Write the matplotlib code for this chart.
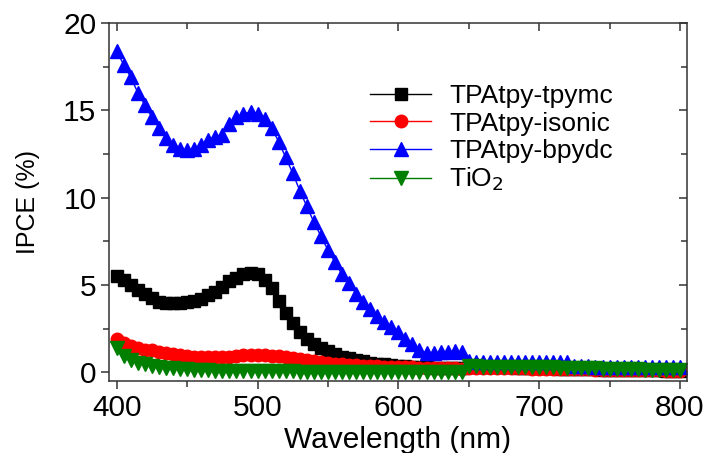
import numpy as np
import matplotlib
matplotlib.use("Agg")
import matplotlib.pyplot as plt
from matplotlib.ticker import MultipleLocator

plt.rcParams['font.family'] = ['Liberation Sans', 'DejaVu Sans']

# Wavelength grid (nm), 5 nm steps
wavelength = np.arange(400, 805, 5)

tpymc = [5.5, 5.3, 5.0, 4.7, 4.5, 4.25, 4.05, 3.95, 3.95, 3.95,
         4.0, 4.1, 4.2, 4.4, 4.6, 4.9, 5.2, 5.4, 5.6, 5.7,
         5.6, 5.3, 4.8, 4.1, 3.4, 2.8, 2.3, 1.9, 1.6, 1.4,
         1.2, 1.05, 0.9, 0.8, 0.7, 0.62, 0.55, 0.5, 0.45, 0.4,
         0.38, 0.35, 0.32, 0.3, 0.28, 0.26, 0.25, 0.24, 0.23, 0.22,
         0.3, 0.3, 0.3, 0.3, 0.29, 0.28, 0.28, 0.27, 0.26, 0.25,
         0.24, 0.23, 0.22, 0.21, 0.2, 0.19, 0.18, 0.17, 0.16, 0.15,
         0.14, 0.14, 0.13, 0.13, 0.12, 0.12, 0.11, 0.11, 0.1, 0.1, 0.1]

isonic = [1.9, 1.7, 1.5, 1.4, 1.3, 1.25, 1.15, 1.1, 1.05, 1.0,
          0.95, 0.9, 0.88, 0.85, 0.85, 0.87, 0.9, 0.95, 1.0, 1.0,
          1.0, 1.0, 0.95, 0.92, 0.88, 0.8, 0.75, 0.7, 0.65, 0.6,
          0.55, 0.5, 0.45, 0.42, 0.4, 0.38, 0.36, 0.34, 0.32, 0.31,
          0.3, 0.29, 0.28, 0.27, 0.26, 0.25, 0.24, 0.23, 0.22, 0.2,
          0.25, 0.25, 0.25, 0.24, 0.24, 0.23, 0.23, 0.22, 0.22, 0.21,
          0.2, 0.2, 0.19, 0.18, 0.18, 0.17, 0.16, 0.16, 0.15, 0.15,
          0.14, 0.14, 0.13, 0.13, 0.12, 0.12, 0.11, 0.11, 0.1, 0.1, 0.1]

bpydc = [18.4, 17.6, 16.9, 16.0, 15.3, 14.6, 14.0, 13.4, 13.0, 12.8,
         12.7, 12.8, 13.0, 13.3, 13.5, 13.6, 14.2, 14.6, 14.8, 14.9,
         14.8, 14.5, 14.0, 13.2, 12.3, 11.4, 10.4, 9.5, 8.6, 7.8,
         7.0, 6.3, 5.6, 5.1, 4.5, 4.0, 3.6, 3.2, 2.9, 2.6,
         2.3, 1.9, 1.6, 1.3, 1.1, 1.1, 1.15, 1.15, 1.2, 1.15,
         0.65, 0.6, 0.6, 0.6, 0.6, 0.6, 0.6, 0.6, 0.6, 0.6,
         0.6, 0.6, 0.6, 0.6, 0.6, 0.35, 0.35, 0.35, 0.33, 0.33,
         0.32, 0.32, 0.3, 0.3, 0.3, 0.3, 0.3, 0.3, 0.3, 0.3, 0.28]

tio2 = [1.4, 0.95, 0.7, 0.55, 0.45, 0.38, 0.32, 0.27, 0.23, 0.2,
        0.17, 0.15, 0.13, 0.12, 0.1, 0.09, 0.08, 0.08, 0.07, 0.07,
        0.06, 0.06, 0.05, 0.05, 0.05, 0.05, 0.04, 0.04, 0.04, 0.04,
        0.04, 0.04, 0.04, 0.04, 0.04, 0.04, 0.04, 0.04, 0.04, 0.04,
        0.04, 0.04, 0.04, 0.04, 0.04, 0.04, 0.04, 0.04, 0.04, 0.04,
        0.35, 0.34, 0.33, 0.33, 0.32, 0.32, 0.31, 0.31, 0.3, 0.3,
        0.3, 0.29, 0.28, 0.27, 0.26, 0.25, 0.24, 0.23, 0.22, 0.21,
        0.2, 0.19, 0.18, 0.17, 0.16, 0.15, 0.14, 0.13, 0.13, 0.12, 0.12]

series = [
    ("TPAtpy-tpymc", tpymc, "black", "s", 8.5),
    ("TPAtpy-isonic", isonic, "#ff0000", "o", 9.0),
    ("TPAtpy-bpydc", bpydc, "#0000ff", "^", 10.0),
    ("TiO$_2$", tio2, "#007f00", "v", 10.0),
]

fig = plt.figure(figsize=(7.10, 4.53), dpi=100)
ax = fig.add_axes([109 / 710, 1 - 381 / 453, (687 - 109) / 710, (381 - 23) / 453])

for label, vals, color, marker, msize in series:
    ax.plot(wavelength, vals, color=color, marker=marker, markersize=msize,
            markeredgecolor=color, linewidth=1.0, label=label)

ax.set_xlim(394.5, 805)
ax.set_ylim(-0.5, 20)
ax.xaxis.set_major_locator(MultipleLocator(100))
ax.xaxis.set_minor_locator(MultipleLocator(50))
ax.yaxis.set_major_locator(MultipleLocator(5))
ax.yaxis.set_minor_locator(MultipleLocator(2.5))

spine_color = "#333333"
for s in ax.spines.values():
    s.set_color(spine_color)
    s.set_linewidth(1.1)

ax.tick_params(which="both", direction="out", color=spine_color, width=1.1,
               labelsize=21.5, pad=3)
ax.tick_params(which="major", length=6)
ax.tick_params(which="minor", length=4)
ax.tick_params(which="both", top=True, right=True)
# ticks on the top and right point inward
for t in ax.xaxis.get_major_ticks() + ax.xaxis.get_minor_ticks():
    t.tick2line.set_marker(3)  # TICKDOWN
for t in ax.yaxis.get_major_ticks() + ax.yaxis.get_minor_ticks():
    t.tick2line.set_marker(0)  # TICKLEFT

ax.set_xlabel("Wavelength (nm)", fontsize=21.5)
ax.set_ylabel("IPCE (%)", fontsize=18)
ax.xaxis.set_label_coords(0.5, -0.125)
ax.yaxis.set_label_coords(-0.12, 0.5)

leg = ax.legend(loc="upper left", bbox_to_anchor=(0.42, 0.88), frameon=False,
                fontsize=19, handlelength=2.3, handletextpad=0.7,
                labelspacing=0.12, borderpad=0.2)

fig.savefig("out.png", dpi=100)
